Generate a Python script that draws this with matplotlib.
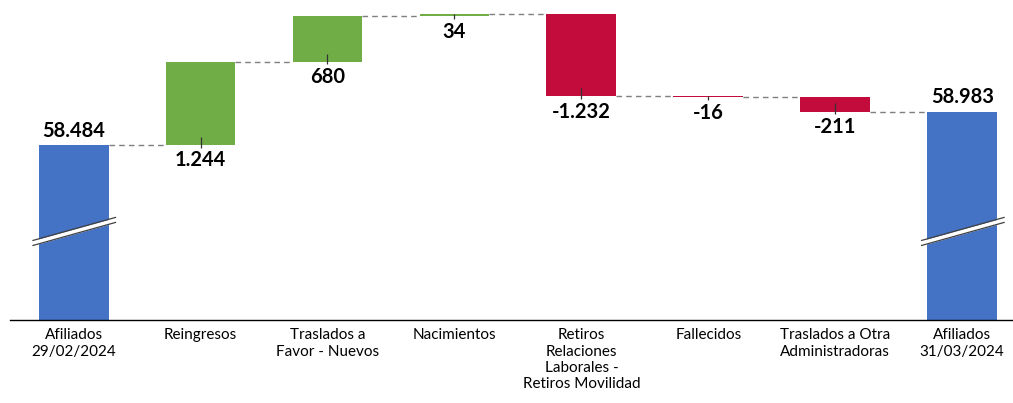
import matplotlib.pyplot as plt
import numpy as np

# data
categories = ['Afiliados\n29/02/2024', 'Reingresos', 'Traslados a\nFavor - Nuevos',
              'Nacimientos', 'Retiros\nRelaciones\nLaborales -\nRetiros Movilidad',
              'Fallecidos', 'Traslados a Otra\nAdministradoras', 'Afiliados\n31/03/2024']
start_total = 58484
changes = [1244, 680, 34, -1232, -16, -211]
end_total = 58983

blue = '#4472C4'
green = '#70AD47'
red = '#C30B3C'

def fmt(v):
    return f'{v:,}'.replace(',', '.')

plt.rcParams['font.family'] = ['Lato', 'DejaVu Sans']

fig = plt.figure(figsize=(10.13, 4.03), dpi=100)
ax = fig.add_axes([0.01, 0.206, 0.99, 0.782])
y0, y1 = 55868, 60577
ax.set_ylim(y0, y1)
ax.set_xlim(-0.5, 7.4)

w = 0.55
x = np.arange(len(categories))

# totals
for xi, val in [(0, start_total), (7, end_total)]:
    ax.bar(xi, val - y0, bottom=y0, width=w, color=blue, zorder=2)
    ax.annotate(fmt(val), (xi, val), xytext=(0, 3), textcoords='offset points',
                ha='center', va='bottom', fontsize=14.5, fontweight='bold')
    # axis break mark
    bx = np.array([xi - 0.32, xi + 0.33])
    by = np.array([57019, 57363])
    gap = 75
    ax.fill_between(bx, by - gap / 2, by + gap / 2, color='white', zorder=3, lw=0)
    ax.plot(bx, by - gap / 2, color='#404040', lw=0.9, zorder=4)
    ax.plot(bx, by + gap / 2, color='#404040', lw=0.9, zorder=4)

# increments
running = start_total
levels = [start_total]
for i, d in enumerate(changes, start=1):
    lo = min(running, running + d)
    hi = max(running, running + d)
    col = green if d > 0 else red
    ax.bar(i, abs(d), bottom=lo, width=w, color=col, zorder=2)
    ax.vlines(i, lo - 40, min(lo + 120, hi), color='#333333', lw=0.9, zorder=3)
    ax.annotate(fmt(d), (i, lo), xytext=(0, -4), textcoords='offset points',
                ha='center', va='top', fontsize=14.5, fontweight='bold')
    running += d
    levels.append(running)

# connectors
for i, lv in enumerate(levels):
    ax.plot([i + w / 2, i + 1 - w / 2], [lv, lv], color='#7F7F7F',
            ls=(0, (4, 3)), lw=1, zorder=1)

ax.set_xticks(x)
ax.set_xticklabels(categories, fontsize=11, linespacing=1.2)
ax.tick_params(axis='x', length=0, pad=6)
ax.set_yticks([])
for s in ['top', 'right', 'left']:
    ax.spines[s].set_visible(False)
ax.spines['bottom'].set_color('black')
ax.spines['bottom'].set_linewidth(1)

fig.savefig('out.png', dpi=100)
